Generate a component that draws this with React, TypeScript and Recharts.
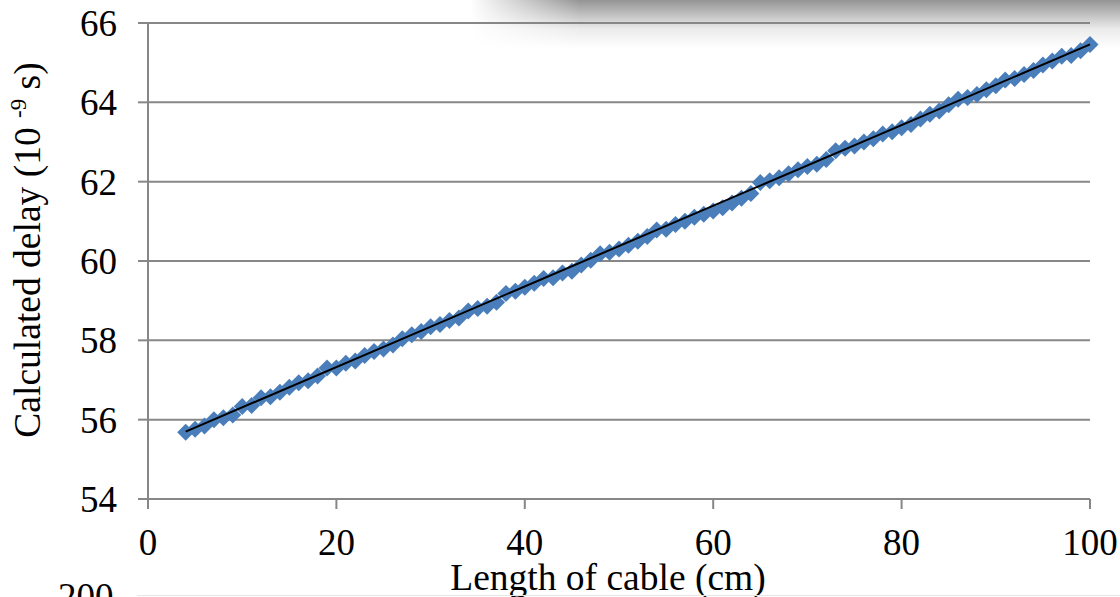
import React from "react";
import { ScatterChart, Scatter, XAxis, YAxis, CartesianGrid, Label } from "recharts";

// cable length (cm) and measured delay (ns)
const lengths = [
  4, 5, 6, 7, 8, 9, 10, 11, 12, 13, 14, 15, 16, 17, 18, 19, 20, 21, 22, 23,
  24, 25, 26, 27, 28, 29, 30, 31, 32, 33, 34, 35, 36, 37, 38, 39, 40, 41, 42, 43,
  44, 45, 46, 47, 48, 49, 50, 51, 52, 53, 54, 55, 56, 57, 58, 59, 60, 61, 62, 63,
  64, 65, 66, 67, 68, 69, 70, 71, 72, 73, 74, 75, 76, 77, 78, 79, 80, 81, 82, 83,
  84, 85, 86, 87, 88, 89, 90, 91, 92, 93, 94, 95, 96, 97, 98, 99, 100,
];
const delays = [
  55.68, 55.76, 55.84, 56.0, 56.05, 56.12, 56.33, 56.36, 56.55, 56.58, 56.69, 56.82, 56.93, 56.98, 57.1, 57.3, 57.3, 57.42, 57.48, 57.62,
  57.72, 57.78, 57.88, 58.04, 58.14, 58.22, 58.34, 58.4, 58.5, 58.56, 58.74, 58.8, 58.86, 58.96, 59.18, 59.24, 59.34, 59.44, 59.56, 59.58,
  59.7, 59.74, 59.9, 60.02, 60.18, 60.22, 60.3, 60.4, 60.5, 60.62, 60.78, 60.8, 60.92, 61.0, 61.1, 61.18, 61.26, 61.34, 61.46, 61.58,
  61.7, 61.98, 62.02, 62.1, 62.2, 62.3, 62.38, 62.44, 62.56, 62.78, 62.84, 62.9, 63.0, 63.08, 63.2, 63.26, 63.36, 63.44, 63.58, 63.7,
  63.78, 63.94, 64.08, 64.12, 64.2, 64.32, 64.42, 64.56, 64.6, 64.7, 64.8, 64.94, 65.04, 65.16, 65.18, 65.3, 65.46,
];

// linear fit endpoints
const fitX = [4, 100];
const fitY = [55.7, 65.46];

const xTicks = [0, 20, 40, 60, 80, 100];
const yTicks = [54, 56, 58, 60, 62, 64, 66];

const points = lengths.map((x, i) => ({ x, y: delays[i] }));
const fitLine = fitX.map((x, i) => ({ x, y: fitY[i] }));

const FONT = '"Liberation Serif", "Times New Roman", serif';
const AXIS_GREY = "#878787";

const Diamond = (props: any) => {
  const { cx, cy } = props;
  const r = 8.5;
  return (
    <polygon
      points={`${cx},${cy - r} ${cx + r},${cy} ${cx},${cy + r} ${cx - r},${cy}`}
      fill="#4a7ebb"
    />
  );
};

const YTitle = () => (
  <text
    transform="translate(40, 250) rotate(-90)"
    textAnchor="middle"
    fontFamily={FONT}
    fontSize={37.5}
    fill="#000"
  >
    <tspan>Calculated delay (10 </tspan>
    <tspan fontSize={23} dy={-14}>
      -9
    </tspan>
    <tspan dy={14}> s)</tspan>
  </text>
);

const XTitle = (props: any) => {
  const { viewBox } = props;
  const cx = viewBox.x + viewBox.width / 2 - 11;
  return (
    <text x={cx} y={590} textAnchor="middle" fontFamily={FONT} fontSize={37.5} fill="#000">
      Length of cable (cm)
    </text>
  );
};

export default function App() {
  return (
    <div style={{ position: "absolute", left: 0, top: 0, width: 1120, height: 597, overflow: "hidden", background: "#fff" }}>
      {/* shadow cast from the panel above */}
      <div
        style={{
          position: "absolute",
          left: 470,
          top: 0,
          width: 650,
          height: 48,
          background: "linear-gradient(to bottom, rgba(0,0,0,0.42), rgba(0,0,0,0.08) 60%, rgba(0,0,0,0))",
          WebkitMaskImage: "linear-gradient(to right, transparent, black 110px)",
          maskImage: "linear-gradient(to right, transparent, black 110px)",
        }}
      />
      <div style={{ position: "absolute", left: 0, top: 0 }}>
        <ScatterChart width={1120} height={597} margin={{ top: 23, right: 30, bottom: 0, left: 0 }}>
          <CartesianGrid horizontal vertical={false} stroke={AXIS_GREY} strokeWidth={2} />
          <XAxis
            type="number"
            dataKey="x"
            domain={[0, 100]}
            ticks={xTicks}
            height={98}
            stroke={AXIS_GREY}
            strokeWidth={2}
            tickSize={10}
            tickMargin={20}
            tick={{ fill: "#000", fontFamily: FONT, fontSize: 37 }}
            interval={0}
          >
            <Label content={<XTitle />} />
          </XAxis>
          <YAxis
            type="number"
            dataKey="y"
            domain={[54, 66]}
            ticks={yTicks}
            width={148}
            stroke={AXIS_GREY}
            strokeWidth={2}
            tickSize={10}
            tickMargin={21}
            tick={{ fill: "#000", fontFamily: FONT, fontSize: 37 }}
            interval={0}
            label={<YTitle />}
          />
          <Scatter data={points} shape={<Diamond />} isAnimationActive={false} />
          <Scatter
            data={fitLine}
            line={{ stroke: "#000", strokeWidth: 2 }}
            shape={() => <g />}
            isAnimationActive={false}
          />
        </ScatterChart>
      </div>
      {/* top of the next figure, cut off at the page edge */}
      <div
        style={{
          position: "absolute",
          left: 58,
          top: 578,
          fontFamily: FONT,
          fontSize: 37,
          lineHeight: "37px",
          color: "#000",
        }}
      >
        200
      </div>
      <div style={{ position: "absolute", left: 137, top: 595, width: 983, height: 1, background: "#e6e6e6" }} />
    </div>
  );
}
